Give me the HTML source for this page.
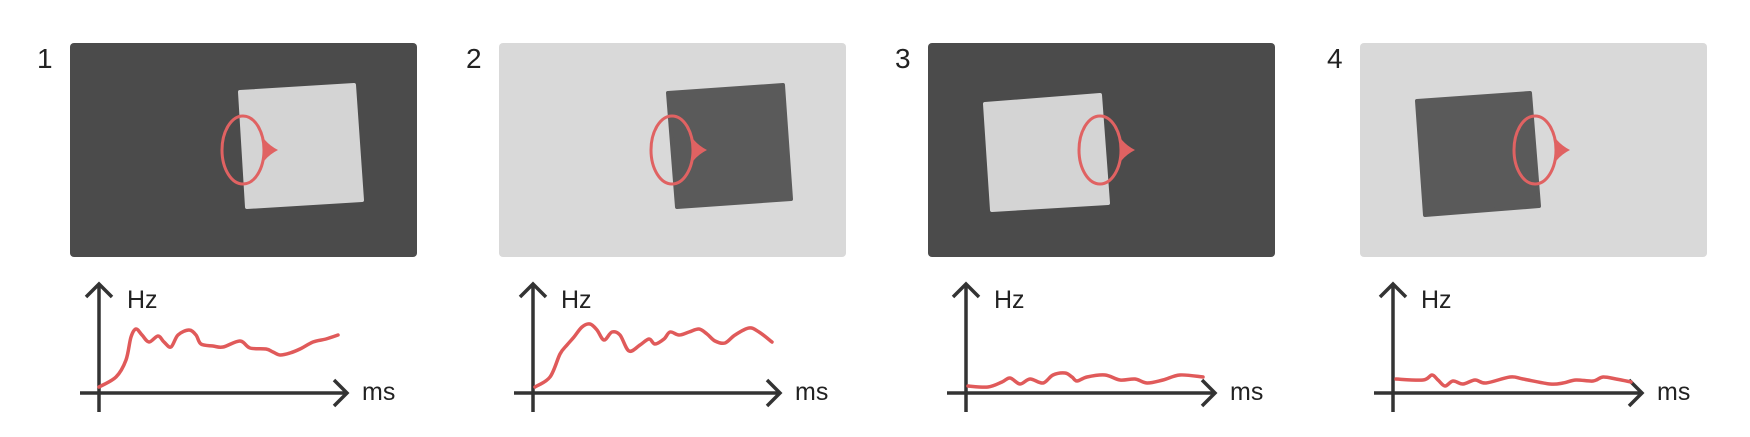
<!DOCTYPE html>
<html><head><meta charset="utf-8"><style>
html,body{margin:0;padding:0;background:#fff;width:1750px;height:437px;overflow:hidden}
svg{display:block}
text{font-family:"Liberation Sans",sans-serif;fill:#222}
</style></head><body>
<svg id="s" width="1750" height="437" xmlns="http://www.w3.org/2000/svg"></svg>
<script>
// data: per-panel curve (ms, Hz) samples
const ms1=[0,17,27,32,37,43,50,59,65,72,79,90,97,102,114,124,141,151,167,174,181,191,201,214,227,239];
const hz1=[6,16,33,56,64,58,51,57,51,46,58,63,58,49,47,46,52,45,44,41,38,40,44,51,54,58];
const ms2=[2,17,27,34,41,49,57,64,71,79,87,96,107,116,122,131,137,146,156,166,174,182,192,202,216,226,239];
const hz2=[6,16,39,48,56,66,69,63,53,61,58,42,48,54,49,54,61,58,61,64,59,52,50,58,65,61,51];
const ms3=[2,22,36,44,54,64,77,87,99,106,111,121,139,154,169,181,197,214,237];
const hz3=[7,6,11,15,9,14,10,18,20,16,12,16,18,13,14,10,13,18,16];
const ms4=[3,30,39,45,52,60,70,82,93,117,130,157,170,183,200,210,223,238];
const hz4=[14,13,18,13,7,12,9,13,10,16,14,9,10,13,12,16,14,11];
const series=[[ms1,hz1],[ms2,hz2],[ms3,hz3],[ms4,hz4]];
const labels=["1","2","3","4"];

const NS="http://www.w3.org/2000/svg";
const svg=document.getElementById('s');
function mk(tag,attrs,parent){const e=document.createElementNS(NS,tag);for(const k in attrs)e.setAttribute(k,attrs[k]);(parent||svg).appendChild(e);return e;}

const panels=[
 {x:70,dark:true,sq:[[240,92],[354,85],[362,200],[247,207]],ex:243,ax:99,aend:347},
 {x:499,dark:false,sq:[[668,93],[783,85],[791,199],[677,207]],ex:672,ax:533,aend:780},
 {x:928,dark:true,sq:[[985,104],[1100,95],[1108,203],[992,210]],ex:1100,ax:966,aend:1215},
 {x:1360,dark:false,sq:[[1417,101],[1530,93],[1539,206],[1425,215]],ex:1535,ax:1393,aend:1642}
];

function smooth(pts){
  let d="M"+pts[0][0]+","+pts[0][1];
  for(let i=0;i<pts.length-1;i++){
    const p0=pts[Math.max(0,i-1)],p1=pts[i],p2=pts[i+1],p3=pts[Math.min(pts.length-1,i+2)];
    const c1=[p1[0]+(p2[0]-p0[0])/6,p1[1]+(p2[1]-p0[1])/6];
    const c2=[p2[0]-(p3[0]-p1[0])/6,p2[1]-(p3[1]-p1[1])/6];
    d+=" C"+c1[0].toFixed(1)+","+c1[1].toFixed(1)+" "+c2[0].toFixed(1)+","+c2[1].toFixed(1)+" "+p2[0].toFixed(1)+","+p2[1].toFixed(1);
  }
  return d;
}

panels.forEach((p,i)=>{
  const g=mk('g',{});
  
  
  const num=mk('text',{x:p.x-33,y:68,'font-size':28},g);num.textContent=labels[i];
  
  
  const r=mk('rect',{x:p.x,y:43,width:347,height:214,rx:4,fill:p.dark?'#4b4b4b':'#d9d9d9'},g);
  
  
  const q=p.sq;
  const sq=mk('polygon',{points:q.map(a=>a.join(',')).join(' '),fill:p.dark?'#d4d4d4':'#5a5a5a',stroke:p.dark?'#d4d4d4':'#5a5a5a','stroke-width':4,'stroke-linejoin':'round'},g);
  
  
  const cx=p.ex,cy=150;
  const el=mk('ellipse',{cx:cx,cy:cy,rx:21,ry:34,fill:'none',stroke:'#e06262','stroke-width':3},g);
  
  
  const tip=mk('path',{d:`M${cx+14},${cy-25} Q${cx+19},${cy-8} ${cx+35},${cy} Q${cx+19},${cy+8} ${cx+14},${cy+25} A21 34 0 0 0 ${cx+14},${cy-25} Z`,fill:'#e06262'},g);
  
  
  // chart
  const base=393, ax=p.ax;
  const xs=v=>ax+v, ys=v=>base-v;
  const ya=mk('path',{d:`M${ax},412 L${ax},284 M${ax-13},297 L${ax},284 L${ax+13},297`,stroke:'#333','stroke-width':3.5,fill:'none'},g);
  
  
  const xa=mk('path',{d:`M${ax-19},${base} L${p.aend},${base} M${p.aend-13},${base-13} L${p.aend},${base} L${p.aend-13},${base+13}`,stroke:'#333','stroke-width':3.5,fill:'none'},g);
  
  
  const hz=mk('text',{x:ax+28,y:308,'font-size':25},g);hz.textContent='Hz';
  
  
  const msT=mk('text',{x:p.aend+15,y:400,'font-size':25},g);msT.textContent='ms';
  
  
  const [mx,hy]=series[i];
  const pts=mx.map((m,k)=>[xs(m),ys(hy[k])]);
  const ln=mk('path',{d:smooth(pts),stroke:'#e05a5a','stroke-width':3.5,fill:'none','stroke-linecap':'round'},g);
  
  
});
</script>
</body></html>
